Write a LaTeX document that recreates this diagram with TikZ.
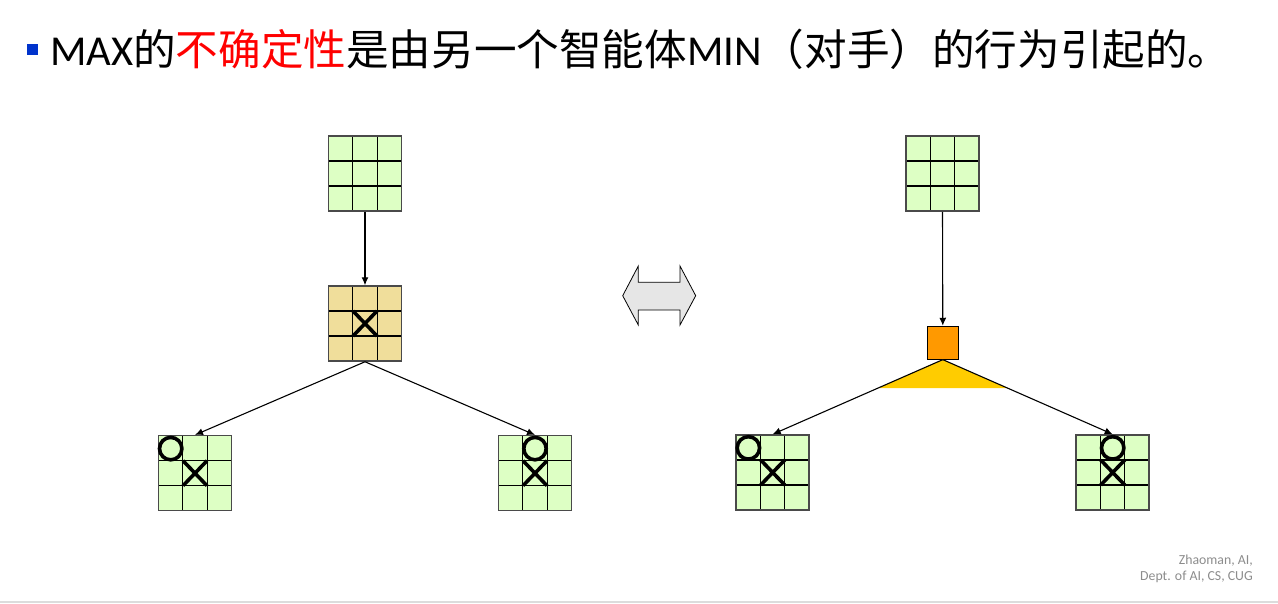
\documentclass[tikz,border=0pt]{standalone}
\usepackage{fontspec}
\setmainfont{Carlito}
\newfontfamily\cjk{Noto Sans CJK SC}
\usetikzlibrary{arrows.meta,calc}

\definecolor{boardgreen}{HTML}{DDFFC4}
\definecolor{boardtan}{HTML}{F0DE9B}
\definecolor{boardedge}{HTML}{4A4A4A}
\definecolor{movebox}{HTML}{FF9900}
\definecolor{fan}{HTML}{FFCC00}
\definecolor{swapgray}{HTML}{E6E6E6}
\definecolor{bulletblue}{HTML}{0033CC}
\definecolor{footgray}{HTML}{8C8C8C}
\definecolor{bandgray}{HTML}{DCDCDC}

\tikzset{
  board/.style={draw=boardedge, line width=1.5pt, inner sep=0pt,
    minimum width=73pt, minimum height=75pt,
    path picture={
      \foreach \f in {1,2} {
        \draw[black, line width=1.2pt]
        ($(path picture bounding box.north west)!\f/3!(path picture bounding box.north east)$) --
        ($(path picture bounding box.south west)!\f/3!(path picture bounding box.south east)$)
        ($(path picture bounding box.north west)!\f/3!(path picture bounding box.south west)$) --
        ($(path picture bounding box.north east)!\f/3!(path picture bounding box.south east)$);
      }
    }},
  link/.style={line width=1.1pt, -{Latex[length=8pt,width=7pt]}},
  piece/.style={line width=3.6pt}
}

\newcommand{\xpiece}[1]{\draw[piece]
  ($(#1)+(-12,-12.5)$) -- ($(#1)+(12,12.5)$)
  ($(#1)+(-12,12.5)$) -- ($(#1)+(12,-12.5)$);}
\newcommand{\opiece}[2]{\draw[piece] ($(#1)+(#2,-24.6)$) circle (11.2pt);}

\begin{document}
\begin{tikzpicture}[x=1pt,y=-1pt]
      \useasboundingbox (0,0) rectangle (1278,603);
      \fill[bandgray] (0,600.5) rectangle (1278,603);

      % title line
      \node[fill=bulletblue, minimum size=11pt, inner sep=0pt] (bullet) at (32.5,49.5) {};
      \node[anchor=base west, inner sep=0pt, font=\fontsize{42.6}{52}\selectfont] (title) at (50,65)
      {MAX{\cjk 的\textcolor{red}{不确定性}是由另一个智能体}MIN{\cjk （对手）的行为引起的。}};

      % left tree
      \node[board, fill=boardgreen] (ltop) at (365,173.5) {};
      \node[board, fill=boardtan] (lmove) at (365,323.5) {};
      \node[board, fill=boardgreen] (lleft) at (195,473.2) {};
      \node[board, fill=boardgreen] (lright) at (535,473.2) {};

      \draw[link] (ltop.south) -- (lmove.north);
      \draw[link] (lmove.south) -- (lleft.north);
      \draw[link] (lmove.south) -- (lright.north);

      \xpiece{lmove}
      \opiece{lleft}{-24.3}
      \xpiece{lleft}
      \opiece{lright}{0}
      \xpiece{lright}

      % swap arrow
      \draw[fill=swapgray, line width=0.8pt]
      (622.7,295.7) -- (638.3,266) -- (638.3,282.3) -- (680,282.3) -- (680,266)
      -- (695.7,295.7) -- (680,325) -- (680,310) -- (638.3,310) -- (638.3,325) -- cycle;

      % right tree
      \node[board, fill=boardgreen] (rtop) at (942.5,173.5) {};
      \node[draw, fill=movebox, line width=0.9pt, inner sep=0pt,
            minimum width=31pt, minimum height=33pt] (rmove) at (942.8,342.7) {};
      \node[board, fill=boardgreen] (rleft) at (772.7,472.5) {};
      \node[board, fill=boardgreen] (rright) at (1112.7,472.5) {};

      \fill[fan] (rmove.south) -- ($(rmove.south)!0.38!(rleft.north)$)
      -- ($(rmove.south)!0.38!(rright.north)$) -- cycle;

      \draw[link] (rtop.south) -- (rmove.north);
      \draw[link] (rmove.south) -- (rleft.north);
      \draw[link] (rmove.south) -- (rright.north);

      \opiece{rleft}{-24.3}
      \xpiece{rleft}
      \opiece{rright}{0}
      \xpiece{rright}

      % footer
      \node[anchor=base east, align=right, inner sep=0pt, text=footgray,
            font=\fontsize{13.8}{16}\selectfont] (credit) at (1253,580.5)
      {Zhaoman, AI,\\Dept. of AI, CS, CUG};

    \end{tikzpicture}
\end{document}
